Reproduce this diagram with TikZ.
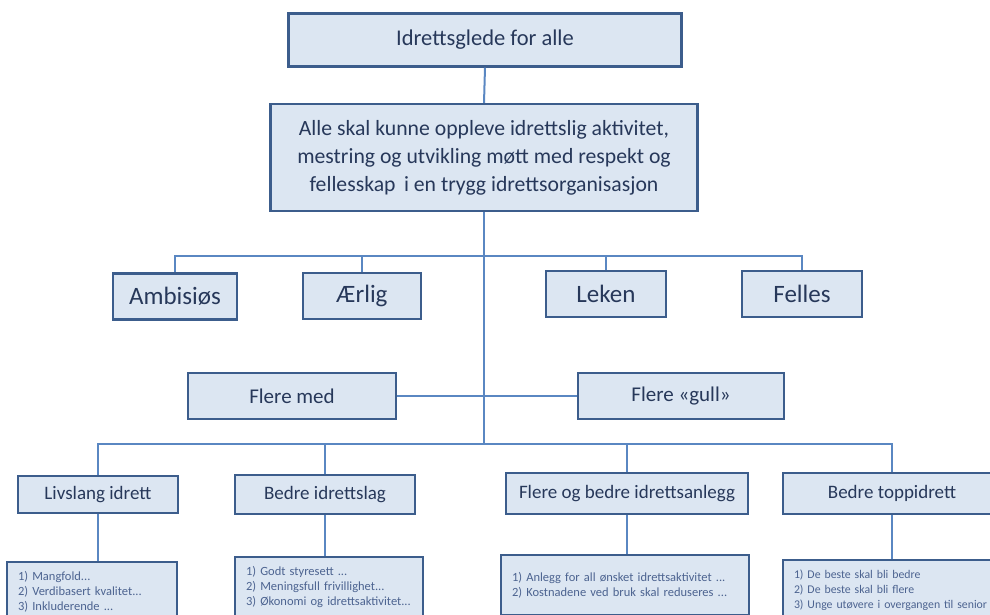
\documentclass[tikz,border=0pt]{standalone}
\usepackage{fontspec}
\setmainfont{Carlito}
\usepackage{tikz}
\usetikzlibrary{shadows}

\definecolor{boxfill}{HTML}{DCE6F2}
\definecolor{boxline}{HTML}{3C5D8C}
\definecolor{linkblue}{HTML}{5A87C2}
\definecolor{textdark}{HTML}{27385A}
\definecolor{textsoft}{HTML}{4C6390}

\begin{document}
\begin{tikzpicture}[x=1pt,
            y=-1pt,
            box/.style={draw=boxline, line width=2.3pt, fill=boxfill,
                        text=textdark, inner sep=0pt, align=center,
                        drop shadow={opacity=0.25, shadow xshift=1.2pt, shadow yshift=-1.2pt}},
            value/.style={box, minimum width=120pt, minimum height=46pt,
                          font=\fontsize{25pt}{30pt}\selectfont},
            focus/.style={box, minimum width=207pt, minimum height=46pt,
                          font=\fontsize{21pt}{25pt}\selectfont},
            area/.style={box, minimum height=39pt,
                         font=\fontsize{19pt}{23pt}\selectfont},
            detail/.style={box, text=textsoft, align=left, minimum height=60pt,
                           inner xsep=11pt, font=\fontsize{12.5pt}{15pt}\selectfont},
            link/.style={draw=linkblue, line width=2pt}]

        \useasboundingbox (0,0) rectangle (990,615);
        \clip (0,0) rectangle (990,615);

        % vision and goal
        \node[box, minimum width=393pt, minimum height=53pt,
              font=\fontsize{22.5pt}{27pt}\selectfont] (top) at (485,40) {Idrettsglede for alle};
        \node[box, minimum width=427pt, minimum height=107pt,
              font=\fontsize{21.7pt}{28pt}\selectfont] (goal) at (484,157.5)
              {Alle skal kunne oppleve idrettslig aktivitet,\\
               mestring og utvikling møtt med respekt og\\
               fellesskap\, i en trygg idrettsorganisasjon};

        % values
        \node[value, minimum width=124pt] (amb) at (175,296.5) {Ambisiøs};
        \node[value, minimum width=118pt] (aer) at (362,296)   {Ærlig};
        \node[value]                      (lek) at (606,294)   {Leken};
        \node[value]                      (fel) at (802,294)   {Felles};

        % main focus
        \node[focus, minimum width=208pt] (med)  at (292,396) {Flere med};
        \node[focus, minimum width=206pt] (gull) at (681,396) {Flere «gull»};

        % areas
        \node[area, minimum width=160pt, minimum height=37pt] (liv)  at (98,494.5)  {Livslang idrett};
        \node[area, minimum width=180pt]                      (lag)  at (325,494.5) {Bedre idrettslag};
        \node[area, minimum width=242pt, minimum height=41pt] (anl)  at (627,493.5) {Flere og bedre idrettsanlegg};
        \node[area, minimum width=218pt, minimum height=41pt] (topp) at (892,493.5) {Bedre toppidrett};

        % sub goals
        \node[detail, text width=148pt] (livd) [below of=liv, node distance=97.5pt, xshift=-6pt]
              {1) Mangfold...\\ 2) Verdibasert kvalitet...\\ 3) Inkluderende ...};
        \node[detail, text width=166pt] (lagd) [below of=lag, node distance=92.5pt, xshift=4pt]
              {1) Godt styresett ...\\ 2) Meningsfull frivillighet...\\ 3) Økonomi og idrettsaktivitet...};
        \node[detail, text width=226pt] (anld) [below of=anl, node distance=91.5pt, xshift=-2pt]
              {1) Anlegg for all ønsket idrettsaktivitet ...\\ 2) Kostnadene ved bruk skal reduseres ...};
        \node[detail, text width=240pt, font=\fontsize{11.8pt}{15pt}\selectfont]
              (toppd) [below of=topp, node distance=96.5pt, xshift=22pt]
              {1) De beste skal bli bedre\\ 2) De beste skal bli flere\\ 3) Unge utøvere i overgangen til senior};

        \coordinate (busA) at (484,256);
        \coordinate (busB) at (484,444);

        \draw[link] (top.south) -- (goal.north);
        \draw[link] (goal.south) -- (busB);
        \draw[link] (amb.north) |- (busA) -| (fel.north);
        \draw[link] (aer.north) -- (aer.north |- busA);
        \draw[link] (lek.north) -- (lek.north |- busA);
        \draw[link] (med.east) -- (gull.west);
        \draw[link] (liv.north) |- (busB) -| (topp.north);
        \draw[link] (lag.north) -- (lag.north |- busB);
        \draw[link] (anl.north) -- (anl.north |- busB);
        \draw[link] (liv.south)  -- (liv.south |- livd.north);
        \draw[link] (lag.south)  -- (lag.south |- lagd.north);
        \draw[link] (anl.south)  -- (anl.south |- anld.north);
        \draw[link] (topp.south) -- (topp.south |- toppd.north);

    \end{tikzpicture}
\end{document}
